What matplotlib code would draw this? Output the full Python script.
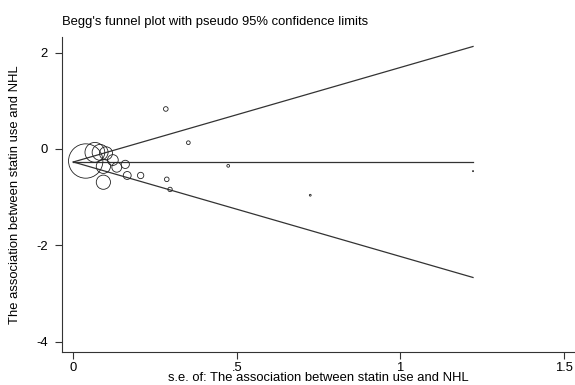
import matplotlib
matplotlib.use('Agg')
import matplotlib.pyplot as plt
import numpy as np

plt.rcParams['font.family'] = ['Liberation Sans', 'DejaVu Sans']

# study standard errors and effect estimates (log scale)
se = [0.038, 0.066, 0.082, 0.100, 0.092, 0.092, 0.121, 0.133, 0.159,
      0.165, 0.206, 0.286, 0.296, 0.352, 0.283, 0.474, 0.725, 1.223]
est = [-0.25, -0.07, -0.07, -0.09, -0.36, -0.69, -0.23, -0.38, -0.32,
       -0.55, -0.55, -0.63, -0.84, 0.13, 0.83, -0.35, -0.96, -0.46]

pooled = -0.27
se_max = 1.223

x_ticks = [0, 0.5, 1, 1.5]
x_ticklabels = ['0', '.5', '1', '1.5']
y_ticks = [-4, -2, 0, 2]
y_ticklabels = ['-4', '-2', '0', '2']

se = np.array(se)
est = np.array(est)

fig = plt.figure(figsize=(5.75, 3.85), dpi=100)
ax = fig.add_axes([0.1073, 0.0849, 0.8927, 0.8198])

# pseudo 95% confidence limits
s = np.array([0, se_max])
ax.plot(s, pooled + 1.96 * s, color='#333333', lw=0.9)
ax.plot(s, pooled - 1.96 * s, color='#333333', lw=0.9)
ax.plot(s, [pooled, pooled], color='#333333', lw=0.9)

# marker area ~ 1/se^2
sizes = (0.94 / se) ** 2
ax.scatter(se, est, s=sizes, facecolors='none', edgecolors='#222222',
           linewidths=0.6, zorder=3)

ax.set_xlim(-0.0355, 1.535)
ax.set_ylim(-4.22, 2.33)
ax.set_xticks(x_ticks)
ax.set_xticklabels(x_ticklabels)
ax.set_yticks(y_ticks)
ax.set_yticklabels(y_ticklabels)
ax.tick_params(direction='out', length=5.3, width=0.8, labelsize=9.4,
               color='#333333')
ax.tick_params(axis='x', pad=1.5)
ax.tick_params(axis='y', pad=4.5)
for side in ['top', 'right']:
    ax.spines[side].set_visible(False)
for side in ['left', 'bottom']:
    ax.spines[side].set_linewidth(0.8)
    ax.spines[side].set_color('#333333')

ax.set_xlabel('s.e. of: The association between statin use and NHL',
              fontsize=9.4, labelpad=-1)
ax.set_ylabel('The association between statin use and NHL', fontsize=9.4,
              labelpad=11)
fig.text(0.1073, 0.944, "Begg's funnel plot with pseudo 95% confidence limits",
         fontsize=9.4, va='center', ha='left')

fig.savefig('out.png', dpi=100)
